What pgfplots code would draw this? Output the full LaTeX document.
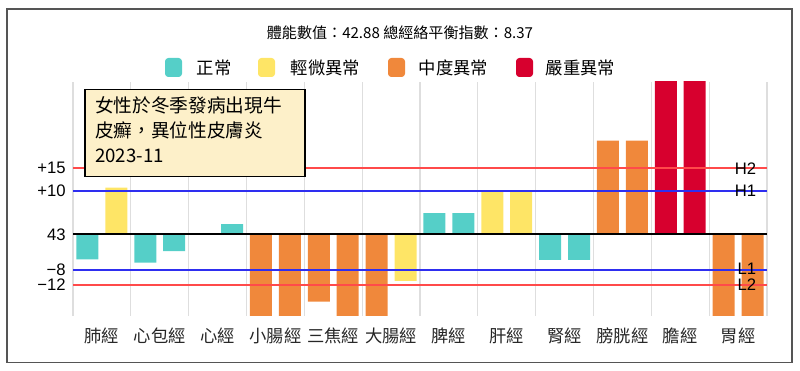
\documentclass[border=0pt]{standalone}
\usepackage{pgfplots}
\pgfplotsset{compat=1.18}
\usepackage{fontspec}
\setmainfont{Noto Sans CJK TC}
\newfontfamily\lat{Liberation Sans}
\definecolor{cteal}{HTML}{55CFC8}
\definecolor{cyellow}{HTML}{FEE566}
\definecolor{corange}{HTML}{F0883B}
\definecolor{cred}{HTML}{D7002E}
\definecolor{cbox}{HTML}{FDF0C9}
\definecolor{lred}{HTML}{FF4A4A}
\definecolor{lblue}{HTML}{2E2EF0}
\definecolor{frame}{HTML}{555555}
\begin{document}
\begin{tikzpicture}[x=0.75pt,y=0.75pt]
\path[use as bounding box] (0,0) rectangle (800,371);
\draw[frame, line width=1.2pt] (7,8.5) rectangle (792,362);
% title
\node[font=\fontsize{11.3}{13}\selectfont] at (400,338) {體能數值：42.88 總經絡平衡指數：8.37};
% legend
\fill[cteal, rounded corners=2.5pt] (165,294) rectangle (182,313);
\node[anchor=west, font=\fontsize{13}{15}\selectfont] at (192,303.5) {正常};
\fill[cyellow, rounded corners=2.5pt] (258,294) rectangle (275,313);
\node[anchor=west, font=\fontsize{13}{15}\selectfont] at (286,303.5) {輕微異常};
\fill[corange, rounded corners=2.5pt] (388,294) rectangle (405,313);
\node[anchor=west, font=\fontsize{13}{15}\selectfont] at (414,303.5) {中度異常};
\fill[cred, rounded corners=2.5pt] (516,294) rectangle (533,313);
\node[anchor=west, font=\fontsize{13}{15}\selectfont] at (541,303.5) {嚴重異常};
\begin{axis}[
  at={(54.75pt,41.6pt)}, anchor=south west,
  scale only axis, width=520.5pt, height=175.35pt,
  xmin=-0.5, xmax=11.5, ymin=-18.45, ymax=34.68,
  axis line style={draw=none},
  major tick length=0pt, minor tick length=0pt,
  xtick={0,...,11},
  xticklabels={肺經,心包經,心經,小腸經,三焦經,大腸經,脾經,肝經,腎經,膀胱經,膽經,胃經},
  xticklabel style={font=\fontsize{13}{15}\selectfont, yshift=-6pt, text=black!85},
  minor xtick={-0.5,0.5,...,11.5},
  xminorgrids=true,
  minor grid style={draw=black!13, line width=0.8pt},
  ytick={15,9.84,0,-8.1,-11.5},
  yticklabels={+15,+10,43,−8,−12},
  yticklabel style={font=\lat\fontsize{12.5}{14}\selectfont, xshift=-2pt},
  ybar, bar width=0.38, bar shift=0pt,
]
\addplot[fill=cteal, draw=none] coordinates {(-0.25,-5.7) (0.75,-6.45) (1.25,-3.8) (2.25,2.3) (5.75,4.8) (6.25,4.8) (7.75,-5.8) (8.25,-5.8)};
\addplot[fill=cyellow, draw=none] coordinates {(0.25,10.6) (5.25,-10.6) (6.75,9.7) (7.25,9.7)};
\addplot[fill=corange, draw=none] coordinates {(2.75,-25) (3.25,-25) (3.75,-15.3) (4.25,-25) (4.75,-25) (8.75,21.3) (9.25,21.3) (10.75,-25) (11.25,-25)};
\addplot[fill=cred, draw=none] coordinates {(9.75,40) (10.25,40)};
\addplot[sharp plot, lred, line width=1.4pt] coordinates {(-0.5,15) (11.5,15)};
\addplot[sharp plot, lblue, line width=1.4pt] coordinates {(-0.5,9.84) (11.5,9.84)};
\addplot[sharp plot, black, line width=1.3pt] coordinates {(-0.5,0) (11.5,0)};
\addplot[sharp plot, lblue, line width=1.4pt] coordinates {(-0.5,-8.1) (11.5,-8.1)};
\addplot[sharp plot, lred, line width=1.4pt] coordinates {(-0.5,-11.5) (11.5,-11.5)};
\node[anchor=east, font=\lat\fontsize{12.5}{14}\selectfont, inner sep=0pt] at (axis cs:11.5,15) [xshift=-8pt] {H2};
\node[anchor=east, font=\lat\fontsize{12.5}{14}\selectfont, inner sep=0pt] at (axis cs:11.5,9.84) [xshift=-8pt] {H1};
\node[anchor=east, font=\lat\fontsize{12.5}{14}\selectfont, inner sep=0pt] at (axis cs:11.5,-8.1) [xshift=-8pt,yshift=1pt] {L1};
\node[anchor=east, font=\lat\fontsize{12.5}{14}\selectfont, inner sep=0pt] at (axis cs:11.5,-11.5) [xshift=-8pt] {L2};
\end{axis}
% annotation box
\draw[draw=black, fill=cbox, line width=1.1pt] (85,194.3) rectangle (305,281.7);
\node[anchor=north west, align=left, inner sep=0pt, text=black, font=\fontsize{14}{18.75}\selectfont] at (95,275) {女性於冬季發病出現牛\\皮癬，異位性皮膚炎\\2023-11};
\end{tikzpicture}
\end{document}
